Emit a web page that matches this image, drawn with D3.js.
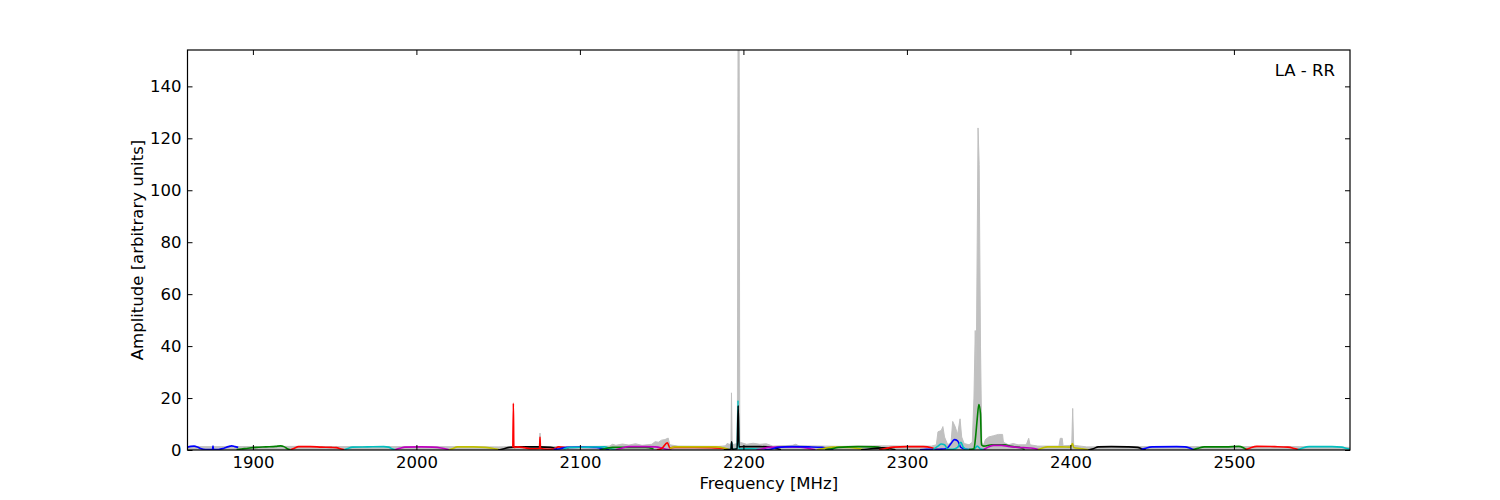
<!DOCTYPE html>
<html>
<head>
<meta charset="utf-8">
<script src="https://cdn.jsdelivr.net/npm/d3@7"></script>
<style>
  body { margin: 0; background: #fff; }
  svg text { font-family: "DejaVu Sans", sans-serif; font-size: 16.5px; fill: #000; }
</style>
</head>
<body>
<div id="chart"></div>
<script>
// tick values
var xTicks = [1900, 2000, 2100, 2200, 2300, 2400, 2500];
var yTicks = [0, 20, 40, 60, 80, 100, 120, 140];

// envelope (grey fill) [MHz, amplitude]
var envelope = [[1860,1.3],[1890,1.3],[1925,1.4],[1950,1.3],[2000,1.3],[2050,1.2],[2060,1.3],
  [2075.2,1.3],[2075.6,6.5],[2076,1.3],[2110,1.4],[2118,1.5],[2120,2.2],[2122,1.8],[2126,2.3],
  [2130,1.9],[2134,2.4],[2138,1.8],[2144,2.2],[2146,3.2],[2148,3.0],[2150,3.8],[2152,4.0],
  [2154,4.6],[2155,2.0],[2160,1.5],[2185,1.4],[2189,1.6],[2190,2.5],[2192.4,2.0],[2192.7,22],
  [2193.1,2.0],[2196.3,2.5],[2196.7,154],[2197.4,154],[2197.8,3],[2202,2.2],[2206,2.6],
  [2210,2.2],[2214,2.4],[2218,1.5],[2230,1.8],[2232,2.2],[2234,1.6],[2250,1.5],[2260,1.4],
  [2270,1.5],[2285,1.6],[2300,1.5],[2315,1.5],[2318,2],[2319,7],[2321,7.5],[2322,9],[2323,5],
  [2325,2],[2327,3],[2328,11],[2329.5,9],[2331,6],[2332.5,12],[2333.5,5],[2335,2.5],[2338,2],
  [2340,3],[2341,20],[2341.8,46],[2342.4,30],[2343,80],[2343.5,124],[2344.2,110],[2345,40],
  [2345.8,3],[2347,2],[2348,4],[2350,5],[2353,5.5],[2356,6],[2358.5,6],[2359,3],[2362,2],
  [2365,2.5],[2368,2],[2373,2],[2374.5,4.5],[2375.3,2],[2380,1.5],[2393,1.5],[2393.8,4.5],
  [2395,4.5],[2395.5,1.6],[2400.8,1.8],[2401.4,16],[2402,1.8],[2410,1.2],[2450,1.3],
  [2500,1.3],[2540,1.3],[2571,1.0]];

// sub-band spectra, [MHz, amplitude]
var band01 = [[1860,1.1],[1862,1.4],[1864,1.5],[1866,1.2],[1868,0.6],[1871,0.2],[1875.3,0.2],[1875.6,1.5],[1875.9,0.2],[1879,0.2],[1882,0.6],[1885,1.3],[1887,1.6],[1889,1.3],[1891,1.0]];
var band02 = [[1890,0.2],[1893,0.4],[1897,0.7],[1902,1.0],[1908,1.2],[1914,1.4],[1917,1.6],[1919,1.3],[1921,0.5],[1923,0.1]];
var band03 = [[1923,0.1],[1925,0.6],[1928,1.3],[1935,1.3],[1942,1.1],[1948,1.0],[1951,0.9],[1954,0.4],[1956,0.1]];
var band04 = [[1956,0.1],[1958,0.6],[1961,1.1],[1970,1.2],[1980,1.3],[1983,1.1],[1985,0.5],[1987,0.1]];
var band05 = [[1987,0.1],[1990,0.7],[1993,1.1],[2003,1.2],[2010,1.1],[2015,0.8],[2018,0.4],[2020,0.1]];
var band06 = [[2020,0.1],[2022,0.5],[2025,1.2],[2035,1.2],[2042,1.0],[2047,0.6],[2050,0.2],[2052,0.0]];
var band07 = [[2050,0.0],[2053,0.4],[2057,1.0],[2062,1.2],[2075,1.2],[2082,1.0],[2086,0.4]];
var band08 = [[2059,1.0],[2059.3,18],[2059.6,1.0],[2062,1.2],[2066,0.9],[2070,0.5],[2075.3,0.6],[2075.6,5],[2075.9,0.6],[2080,0.3],[2084,0.4],[2087,1.2],[2090,1.0],[2093,0.6]];
var band09 = [[2084,0.2],[2088,0.5],[2092,1.0],[2100,1.1],[2110,1.0],[2114,0.6],[2118,0.1]];
var band10 = [[2090,0.4],[2094,1.0],[2105,1.1],[2115,1.2],[2119,0.5],[2122,0.1]];
var band11 = [[2112,0.1],[2116,0.6],[2120,1.0],[2130,1.0],[2140,1.0],[2145,0.5]];
var band12 = [[2122,0.1],[2126,0.8],[2130,1.3],[2140,1.3],[2146,1.2],[2150,0.8],[2153,0.3],[2156,0.2]];
var band13 = [[2147,0.1],[2150,0.6],[2153.5,2.8],[2155,0.8],[2158,1.0],[2170,1.0],[2180,0.9],[2188,0.6],[2190,0.2]];
var band14 = [[2155,0.6],[2158,1.2],[2170,1.2],[2183,1.2],[2188,0.8],[2191,0.2]];
var band15 = [[2191,0.2],[2192.4,0.3],[2192.8,3],[2193.2,0.3],[2196.2,0.4],[2196.7,19],[2197.2,0.4],[2205,0.5],[2210,0.3],[2214,0.1]];
var band16 = [[2188,0.1],[2192.4,0.3],[2192.8,3.2],[2193.2,0.3],[2196.2,0.5],[2196.8,17],[2197.3,1.2],[2200,1.3],[2210,1.3],[2215,1.2],[2220,0.6],[2223,0.1]];
var band17 = [[2208,0.1],[2212,0.5],[2215,1.0],[2225,1.2],[2235,1.1],[2240,0.6],[2244,0.1]];
var band18 = [[2213,0.1],[2217,0.3],[2221,1.0],[2230,1.3],[2240,1.2],[2248,1.0],[2252,0.5],[2255,0.1]];
var band19 = [[2245,0.1],[2249,0.6],[2255,1.1],[2265,1.0],[2270,0.6],[2274,0.1]];
var band20 = [[2250,0.1],[2254,0.5],[2258,1.0],[2270,1.3],[2280,1.2],[2285,0.8],[2289,0.1]];
var band21 = [[2272,0.1],[2278,0.5],[2285,0.8],[2290,0.5],[2293,0.1]];
var band22 = [[2283,0.1],[2287,0.6],[2292,1.1],[2300,1.3],[2310,1.3],[2315,0.9],[2318,0.3],[2321,0.1]];
var band23 = [[2308,0.1],[2312,0.3],[2316,0.2],[2320,0.3],[2324,0.5],[2327,2.5],[2329,4],[2331,3.5],[2333,1],[2336,0.3],[2340,0.1]];
var band24 = [[2316,0.1],[2319,1.5],[2321,2.3],[2323,2.0],[2325,0.3],[2328,0.3],[2331,1.0],[2333,3.0],[2334.5,1.0],[2337,0.2],[2341,0.3],[2343,1.5],[2345,0.4],[2348,0.2]];
var band25 = [[2338,0.2],[2341,0.5],[2342,5],[2343,12],[2344,17.5],[2345,14],[2345.6,2],[2347,1.5],[2352,2],[2360,2],[2363,1.5],[2366,1.2],[2370,0.8],[2372,0.1]];
var band26 = [[2347,0.2],[2350,1.2],[2353,1.8],[2358,1.8],[2362,1.4],[2368,1.0],[2375,0.8],[2378,0.6],[2381,0.1]];
var band27 = [[2380,0.1],[2383,0.8],[2386,1.2],[2395,1.2],[2400,1.1],[2401.3,2.5],[2402,1.0],[2406,0.6],[2410,0.2],[2413,0.0]];
var band28 = [[2411,0.0],[2414,0.5],[2417,1.2],[2425,1.3],[2435,1.2],[2441,1.0],[2444,0.4],[2446,0.1]];
var band29 = [[2443,0.1],[2446,0.7],[2450,1.2],[2465,1.3],[2470,1.2],[2474,0.5],[2476,0.1]];
var band30 = [[2475,0.1],[2478,0.7],[2482,1.2],[2495,1.2],[2503,1.4],[2506,0.8],[2508,0.1]];
var band31 = [[2507,0.1],[2510,0.8],[2514,1.4],[2525,1.3],[2533,1.1],[2537,0.6],[2540,0.1]];
var band32 = [[2539,0.1],[2542,0.8],[2546,1.3],[2560,1.3],[2566,1.1],[2569,0.6],[2571,0.3]];

var bands = [band01, band02, band03, band04, band05, band06, band07, band08, band09, band10,
  band11, band12, band13, band14, band15, band16, band17, band18, band19, band20, band21,
  band22, band23, band24, band25, band26, band27, band28, band29, band30, band31, band32];
var bandColors = ["b","g","r","c","m","y","k","r","b","c","g","m","r","y","c","k",
  "m","b","y","g","k","r","b","c","g","m","y","k","b","g","r","c"];
var colorCodes = { b: "#0000ff", g: "#008000", r: "#ff0000", c: "#00bfbf", m: "#bf00bf", y: "#bfbf00", k: "#000000" };

var width = 1500, height = 500;
var margin = { left: 187.5, right: 150, top: 50, bottom: 50 };

var svg = d3.select("#chart").append("svg")
  .attr("width", width).attr("height", height);

var xScale = d3.scaleLinear().domain([1860, 2571]).range([margin.left, width - margin.right]);
var yScale = d3.scaleLinear().domain([0, 154]).range([height - margin.bottom, margin.top]);

svg.append("clipPath").attr("id", "plot-clip").append("rect")
  .attr("x", margin.left).attr("y", margin.top)
  .attr("width", width - margin.left - margin.right)
  .attr("height", height - margin.top - margin.bottom);

var plot = svg.append("g").attr("clip-path", "url(#plot-clip)");

var area = d3.area()
  .x(function (d) { return xScale(d[0]); })
  .y0(yScale(0))
  .y1(function (d) { return yScale(d[1]); });

plot.append("path").datum(envelope)
  .attr("d", area)
  .attr("fill", "#c0c0c0")
  .attr("stroke", "#c0c0c0")
  .attr("stroke-width", 1);

var line = d3.line()
  .x(function (d) { return xScale(d[0]); })
  .y(function (d) { return yScale(d[1]); })
  .curve(d3.curveMonotoneX);

bands.forEach(function (band, i) {
  plot.append("path").datum(band)
    .attr("d", line)
    .attr("fill", "none")
    .attr("stroke", colorCodes[bandColors[i]])
    .attr("stroke-width", 1.6)
    .attr("stroke-linejoin", "round");
});

// axes, matplotlib classic style: inward ticks on all four sides
var tickLen = 5;
svg.append("g")
  .attr("transform", "translate(0," + (height - margin.bottom) + ")")
  .call(d3.axisBottom(xScale).tickValues(xTicks).tickFormat(d3.format("d"))
    .tickSizeInner(-tickLen).tickSizeOuter(0).tickPadding(6));
svg.append("g")
  .attr("transform", "translate(0," + margin.top + ")")
  .call(d3.axisTop(xScale).tickValues(xTicks).tickSizeInner(-tickLen).tickSizeOuter(0).tickFormat(""));
svg.append("g")
  .attr("transform", "translate(" + margin.left + ",0)")
  .call(d3.axisLeft(yScale).tickValues(yTicks).tickSizeInner(-tickLen).tickSizeOuter(0).tickPadding(6));
svg.append("g")
  .attr("transform", "translate(" + (width - margin.right) + ",0)")
  .call(d3.axisRight(yScale).tickValues(yTicks).tickSizeInner(-tickLen).tickSizeOuter(0).tickFormat(""));

svg.selectAll(".domain").remove();
svg.selectAll(".tick line").attr("stroke", "#000");
svg.selectAll(".tick text")
  .style("font-family", "'DejaVu Sans', sans-serif")
  .style("font-size", "16.5px")
  .attr("fill", "#000");

svg.append("rect")
  .attr("x", margin.left).attr("y", margin.top)
  .attr("width", width - margin.left - margin.right)
  .attr("height", height - margin.top - margin.bottom)
  .attr("fill", "none").attr("stroke", "#000").attr("stroke-width", 1.2);

svg.append("text")
  .attr("x", (margin.left + width - margin.right) / 2)
  .attr("y", 489)
  .attr("text-anchor", "middle")
  .text("Frequency [MHz]");

svg.append("text")
  .attr("transform", "translate(143," + (margin.top + (height - margin.top - margin.bottom) / 2) + ") rotate(-90)")
  .attr("text-anchor", "middle")
  .text("Amplitude [arbitrary units]");

svg.append("text")
  .attr("x", 1335).attr("y", 76)
  .attr("text-anchor", "end")
  .text("LA - RR");
</script>
</body>
</html>
